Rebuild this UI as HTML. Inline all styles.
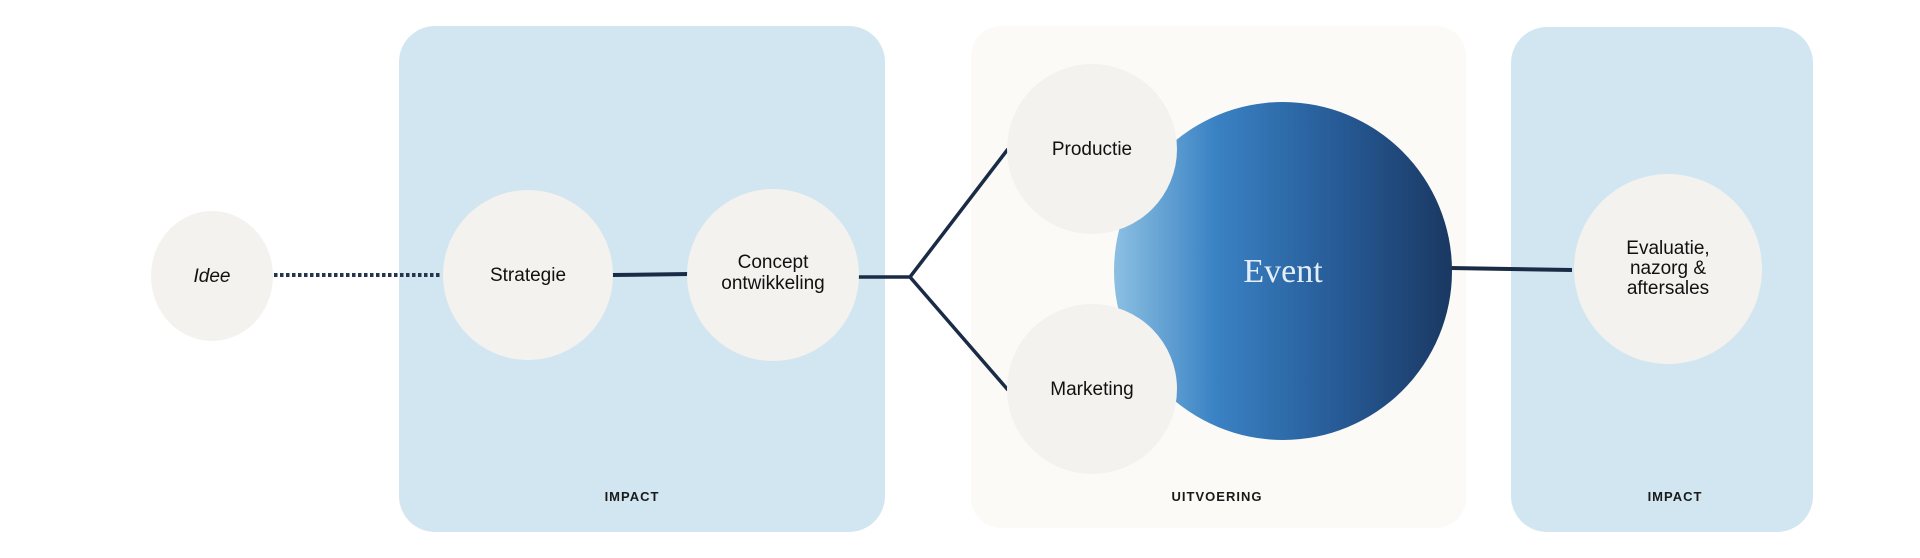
<!DOCTYPE html>
<html><head><meta charset="utf-8"><style>
html,body{margin:0;padding:0;background:#fff;}
svg{display:block;}
</style></head><body>
<svg width="1920" height="558" viewBox="0 0 1920 558" xmlns="http://www.w3.org/2000/svg">
<defs>
<linearGradient id="g" x1="0" x2="1" y1="0" y2="0">
<stop offset="0" stop-color="#8cc0e2"/>
<stop offset="0.3" stop-color="#3a82c4"/>
<stop offset="0.65" stop-color="#275c98"/>
<stop offset="1" stop-color="#1a3862"/>
</linearGradient>
</defs>
<rect x="399" y="26" width="486" height="506" rx="36" fill="#d2e6f1"/>
<rect x="971" y="26" width="495" height="502" rx="30" fill="#fbfaf7"/>
<rect x="1511" y="27" width="302" height="505" rx="36" fill="#d2e6f1"/>
<line x1="274" y1="275" x2="442" y2="275" stroke="#26344d" stroke-width="4" stroke-dasharray="3.5,2.5"/>
<line x1="612" y1="275" x2="690" y2="274" stroke="#1a2b45" stroke-width="4"/>
<polyline points="857,277 910,277 1008,149" fill="none" stroke="#1a2b45" stroke-width="3.5"/>
<line x1="910" y1="277" x2="1008" y2="390" stroke="#1a2b45" stroke-width="3.5"/>
<line x1="1450" y1="268" x2="1572" y2="270" stroke="#1a2b45" stroke-width="4"/>
<circle cx="1283" cy="271" r="169" fill="url(#g)"/>
<ellipse cx="212" cy="276" rx="61" ry="65" fill="#f4f2ee"/>
<circle cx="528" cy="275" r="85" fill="#f4f2ee"/>
<circle cx="773" cy="275" r="86" fill="#f4f2ee"/>
<circle cx="1092" cy="149" r="85" fill="#f4f2ee"/>
<circle cx="1092" cy="389" r="85" fill="#f4f2ee"/>
<ellipse cx="1668" cy="269" rx="94" ry="95" fill="#f4f2ee"/>
<g font-family="Liberation Sans, sans-serif" font-size="19" fill="#111" text-anchor="middle">
<text x="212" y="282" font-style="italic">Idee</text>
<text x="528" y="281">Strategie</text>
<text x="773" y="268">Concept</text>
<text x="773" y="289">ontwikkeling</text>
<text x="1092" y="155">Productie</text>
<text x="1092" y="395">Marketing</text>
<text x="1668" y="254">Evaluatie,</text>
<text x="1668" y="274">nazorg &amp;</text>
<text x="1668" y="294">aftersales</text>
</g>
<text x="1283" y="282" font-family="Liberation Serif, serif" font-size="34" fill="#e3eef8" text-anchor="middle">Event</text>
<g font-family="Liberation Sans, sans-serif" font-size="13" font-weight="bold" fill="#1a1a1a" text-anchor="middle" letter-spacing="1">
<text x="632" y="501">IMPACT</text>
<text x="1217" y="501">UITVOERING</text>
<text x="1675" y="501">IMPACT</text>
</g>
</svg>
</body></html>
